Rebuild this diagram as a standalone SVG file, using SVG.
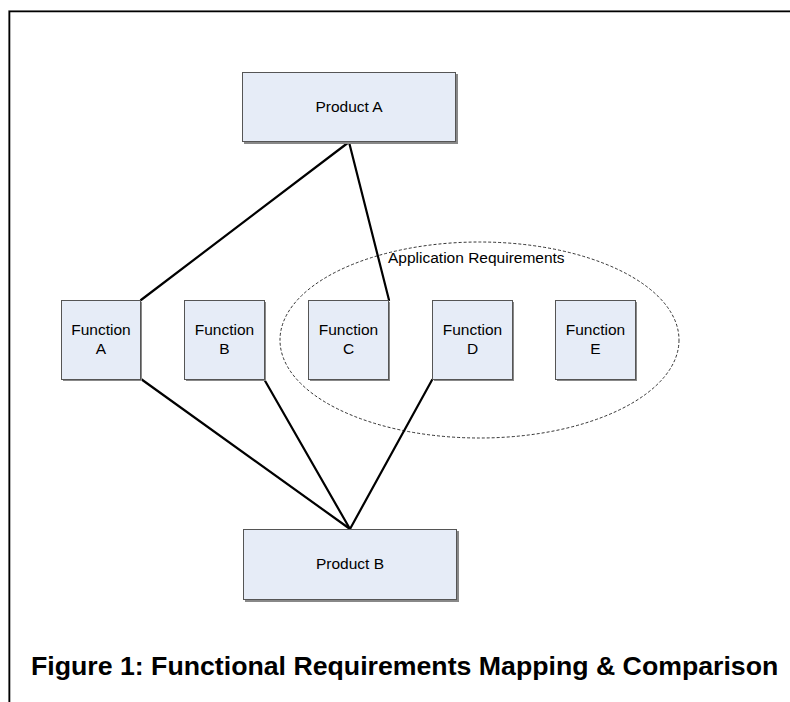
<svg xmlns="http://www.w3.org/2000/svg" width="790" height="702" viewBox="0 0 790 702">
<style>
.box{fill:#e6ecf7;stroke:#555;stroke-width:1}
.shadow{fill:#888}
.lbl{font-family:"Liberation Sans",Arial,sans-serif;font-size:15.5px;fill:#000;text-anchor:middle}
.conn{stroke:#000;stroke-width:2.2;fill:none;stroke-linecap:round}
</style>
<rect width="790" height="702" fill="#fff"/>
<g id="frame">
<path d="M8.5 702 V10.5 H790" fill="none" stroke="#999" stroke-width="1"/>
<path d="M9.5 702 V11.5 H790" fill="none" stroke="#000" stroke-width="1.6"/>
</g>
<g id="app-req">
<ellipse cx="479.5" cy="340" rx="199.5" ry="98" fill="none" stroke="#000" stroke-width="0.8" stroke-dasharray="3,2"/>
<text class="lbl" x="388" y="263" style="text-anchor:start">Application Requirements</text>
</g>
<g id="connectors">
<line class="conn" x1="349" y1="142" x2="141" y2="300"/>
<line class="conn" x1="349" y1="142" x2="389" y2="300"/>
<line class="conn" x1="141" y1="379" x2="350" y2="529"/>
<line class="conn" x1="264" y1="379" x2="350" y2="529"/>
<line class="conn" x1="432" y1="380" x2="350" y2="529"/>
</g>
<g id="product-a">
<rect class="shadow" x="244" y="74" width="214" height="70"/>
<rect class="box" x="242.5" y="72.5" width="213" height="69"/>
<text class="lbl" x="349" y="112">Product A</text>
</g>
<g id="function-a">
<rect class="shadow" x="63" y="302" width="79" height="79"/>
<rect class="box" x="61.5" y="300.5" width="79" height="79"/>
<text class="lbl" x="101" y="335">Function</text>
<text class="lbl" x="101" y="354">A</text>
</g>
<g id="function-b">
<rect class="shadow" x="186" y="302" width="80" height="79"/>
<rect class="box" x="184.5" y="300.5" width="80" height="79"/>
<text class="lbl" x="224.5" y="335">Function</text>
<text class="lbl" x="224.5" y="354">B</text>
</g>
<g id="function-c">
<rect class="shadow" x="310" y="302" width="80" height="79"/>
<rect class="box" x="308.5" y="300.5" width="80" height="79"/>
<text class="lbl" x="348.5" y="335">Function</text>
<text class="lbl" x="348.5" y="354">C</text>
</g>
<g id="function-d">
<rect class="shadow" x="434" y="302" width="80" height="79"/>
<rect class="box" x="432.5" y="300.5" width="80" height="79"/>
<text class="lbl" x="472.5" y="335">Function</text>
<text class="lbl" x="472.5" y="354">D</text>
</g>
<g id="function-e">
<rect class="shadow" x="557" y="302" width="80" height="79"/>
<rect class="box" x="555.5" y="300.5" width="80" height="79"/>
<text class="lbl" x="595.5" y="335">Function</text>
<text class="lbl" x="595.5" y="354">E</text>
</g>
<g id="product-b">
<rect class="shadow" x="245" y="531" width="214" height="71"/>
<rect class="box" x="243.5" y="529.5" width="213" height="70"/>
<text class="lbl" x="350" y="569">Product B</text>
</g>
<g id="caption">
<text x="31" y="675" font-family="'Liberation Sans',Arial,sans-serif" font-size="26.7" font-weight="bold" fill="#000">Figure 1: Functional Requirements Mapping &amp; Comparison</text>
</g>
</svg>
